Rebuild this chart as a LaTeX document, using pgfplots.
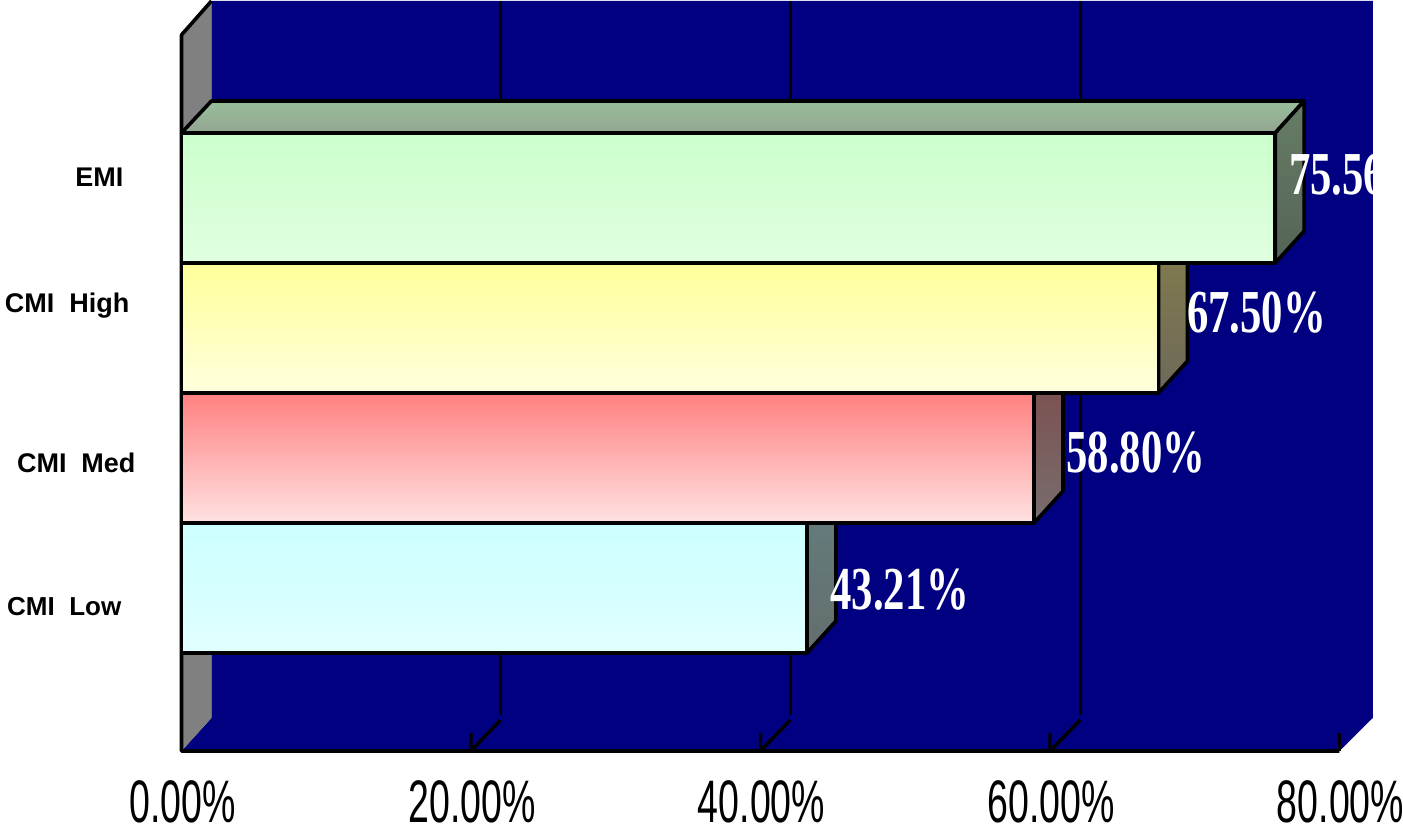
\documentclass[border=0pt]{standalone}
\usepackage{pgfplots}
\pgfplotsset{compat=1.18}
\usepackage{fontspec}
\setmainfont{Liberation Sans}
\newfontfamily\serifb{Liberation Serif}[BoldFont={* Bold}]
\definecolor{navyw}{RGB}{0,0,128}
\definecolor{wallg}{RGB}{128,128,128}
\newcommand{\tl}[1]{\scalebox{0.625}[1]{\fontsize{30}{30}\selectfont #1}}
\newcommand{\dl}[1]{\scalebox{0.70}[1]{\fontsize{30.5}{30.5}\selectfont\serifb\bfseries #1}}
\begin{document}
\begin{tikzpicture}
\path[use as bounding box] (-90.75pt,-41pt) rectangle (610.75pt,375.5pt);
\begin{axis}[
  scale only axis, width=579pt, height=375pt,
  xmin=0, xmax=80, ymin=-1.254, ymax=4.515,
  clip=false,
  axis line style={draw=none},
  major tick length=0pt,
  xtick={0,20,40,60,80},
  xticklabels={\tl{0.00\%},\tl{20.00\%},\tl{40.00\%},\tl{60.00\%},\tl{80.00\%}},
  xticklabel style={inner sep=0pt, anchor=north, yshift=-14.5pt, xshift=0.5pt},
  ytick=\empty,
  every axis plot/.append style={no marks, sharp plot, forget plot, line join=round},
]
% back wall and floor
\addplot[draw=none, fill=navyw] coordinates {(2.07,4.515)(82.3,4.515)(82.3,-1.0)(80,-1.254)(0,-1.254)(2.07,-1.0)} --cycle;
% left wall
\addplot[draw=none, fill=wallg] coordinates {(0,4.254)(2.07,4.515)(2.07,-1.0)(0,-1.254)} --cycle;
% frame lines
\addplot[black, line width=1.8pt] coordinates {(2.07,4.515)(0,4.254)(0,-1.254)(80,-1.254)};
% grid lines on the back wall and floor
\addplot[black, line width=1.7pt] coordinates {(22.04,4.515)(22.04,-0.977)};
\addplot[black, line width=1.7pt] coordinates {(42.07,4.515)(42.07,-0.977)};
\addplot[black, line width=1.7pt] coordinates {(62.1,4.515)(62.1,-0.977)};
\addplot[black, line width=1.7pt] coordinates {(22.04,-1.015)(20,-1.254)(20,-1.115)};
\addplot[black, line width=1.7pt] coordinates {(42.07,-1.015)(40,-1.254)(40,-1.115)};
\addplot[black, line width=1.7pt] coordinates {(62.1,-1.015)(60,-1.254)(60,-1.115)};
\addplot[black, line width=1.7pt] coordinates {(80,-1.254)(80,-1.115)};
% CMI Low 43.21
\addplot[draw=black, line width=1.8pt, top color={rgb,255:red,150;green,190;blue,190}, bottom color={rgb,255:red,145;green,165;blue,165}] coordinates {(0,0.5)(2.07,0.746)(45.21,0.746)(43.21,0.5)} --cycle;
\addplot[draw=black, line width=1.8pt, top color={rgb,255:red,100;green,125;blue,125}, bottom color={rgb,255:red,100;green,110;blue,110}] coordinates {(43.21,0.5)(45.21,0.746)(45.21,-0.254)(43.21,-0.5)} --cycle;
\addplot[draw=black, line width=1.8pt, top color={rgb,255:red,204;green,255;blue,255}, bottom color={rgb,255:red,224;green,255;blue,255}] coordinates {(0,-0.5)(0,0.5)(43.21,0.5)(43.21,-0.5)} --cycle;
% CMI Med 58.80
\addplot[draw=black, line width=1.8pt, top color={rgb,255:red,125;green,75;blue,75}, bottom color={rgb,255:red,120;green,110;blue,110}] coordinates {(58.9,1.5)(60.9,1.746)(60.9,0.746)(58.9,0.5)} --cycle;
\addplot[draw=black, line width=1.8pt, top color={rgb,255:red,255;green,128;blue,128}, bottom color={rgb,255:red,255;green,226;blue,226}] coordinates {(0,0.5)(0,1.5)(58.9,1.5)(58.9,0.5)} --cycle;
% CMI High 67.50
\addplot[draw=black, line width=1.8pt, top color={rgb,255:red,130;green,125;blue,75}, bottom color={rgb,255:red,110;green,105;blue,90}] coordinates {(67.5,2.5)(69.5,2.746)(69.5,1.746)(67.5,1.5)} --cycle;
\addplot[draw=black, line width=1.8pt, top color={rgb,255:red,255;green,255;blue,153}, bottom color={rgb,255:red,255;green,255;blue,222}] coordinates {(0,1.5)(0,2.5)(67.5,2.5)(67.5,1.5)} --cycle;
% EMI 75.56
\addplot[draw=black, line width=1.8pt, top color={rgb,255:red,152;green,190;blue,155}, bottom color={rgb,255:red,148;green,165;blue,145}] coordinates {(0,3.5)(2.07,3.746)(77.56,3.746)(75.56,3.5)} --cycle;
\addplot[draw=black, line width=1.8pt, top color={rgb,255:red,102;green,125;blue,102}, bottom color={rgb,255:red,85;green,100;blue,85}] coordinates {(75.56,3.5)(77.56,3.746)(77.56,2.746)(75.56,2.5)} --cycle;
\addplot[draw=black, line width=1.8pt, top color={rgb,255:red,204;green,255;blue,204}, bottom color={rgb,255:red,224;green,255;blue,224}] coordinates {(0,2.5)(0,3.5)(75.56,3.5)(75.56,2.5)} --cycle;
% data labels
\node[anchor=west, inner sep=0pt, text=white] at (76.5,3.177) {\dl{75.56\%}};
\node[anchor=west, inner sep=0pt, text=white] at (69.45,2.115) {\dl{67.50\%}};
\node[anchor=west, inner sep=0pt, text=white] at (61.1,1.038) {\dl{58.80\%}};
\node[anchor=west, inner sep=0pt, text=white] at (44.8,-0.015) {\dl{43.21\%}};
% category labels
\node[font=\fontsize{13.5}{14}\selectfont\bfseries] at (-5.68,3.162) {EMI};
\node[font=\fontsize{13.5}{14}\selectfont\bfseries] at (-7.9,2.17) {CMI\ \ High};
\node[font=\fontsize{13.5}{14}\selectfont\bfseries] at (-7.27,0.962) {CMI\ \ Med};
\node[font=\fontsize{13}{14}\selectfont\bfseries] at (-8.1,-0.146) {CMI\ \ Low};
\end{axis}
\end{tikzpicture}
\end{document}
